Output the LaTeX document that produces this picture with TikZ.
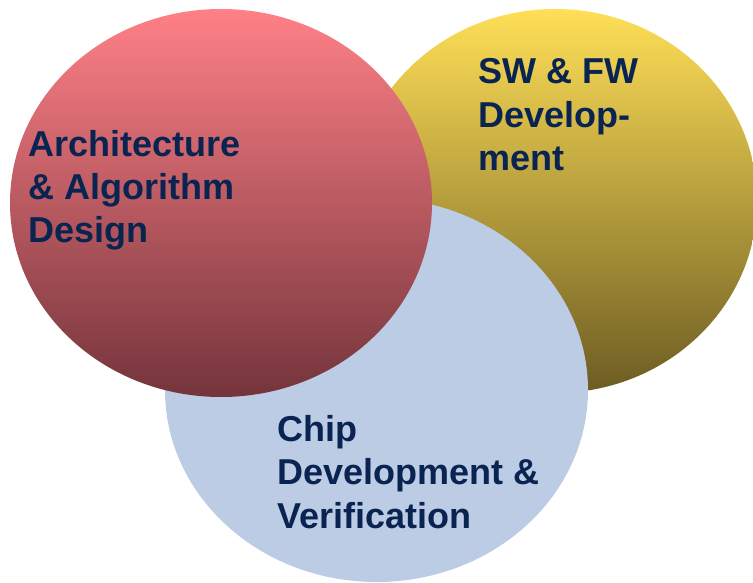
\documentclass[tikz,border=0pt]{standalone}
\usepackage{fontspec}
\setmainfont{Liberation Sans}
\usetikzlibrary{positioning}
\definecolor{archtop}{HTML}{FF8087}
\definecolor{archbot}{HTML}{74343B}
\definecolor{swtop}{HTML}{FFDF57}
\definecolor{swbot}{HTML}{6C5C22}
\definecolor{chipc}{HTML}{BDCCE5}
\definecolor{txtc}{HTML}{0A2452}
\tikzset{
  lbl/.style={anchor=base west,align=left,inner sep=0pt,text=txtc,
    font=\fontsize{36}{43.5}\selectfont\bfseries}
}

\begin{document}
\begin{tikzpicture}[x=1pt,y=-1pt]
\useasboundingbox (0,0) rectangle (753,583);
% three overlapping areas, back to front
\begin{scope}
\clip (0,0) rectangle (753,583);
\shade[top color=swtop,bottom color=swbot] (555,201) ellipse (202 and 192);
\fill[chipc] (376.5,390) ellipse (211.5 and 192);
\shade[top color=archtop,bottom color=archbot] (221,203) ellipse (211 and 194);
\end{scope}
% labels (base = baseline of the last line)
\node[lbl] (arch) at (28,243) {Architecture\\\& Algorithm\\Design};
\node[lbl] (swfw) at (478,171) {SW \& FW\\Develop-\\ment};
\node[lbl] (chip) at (277,528) {Chip\\Development \&\\Verification};
\end{tikzpicture}
\end{document}
